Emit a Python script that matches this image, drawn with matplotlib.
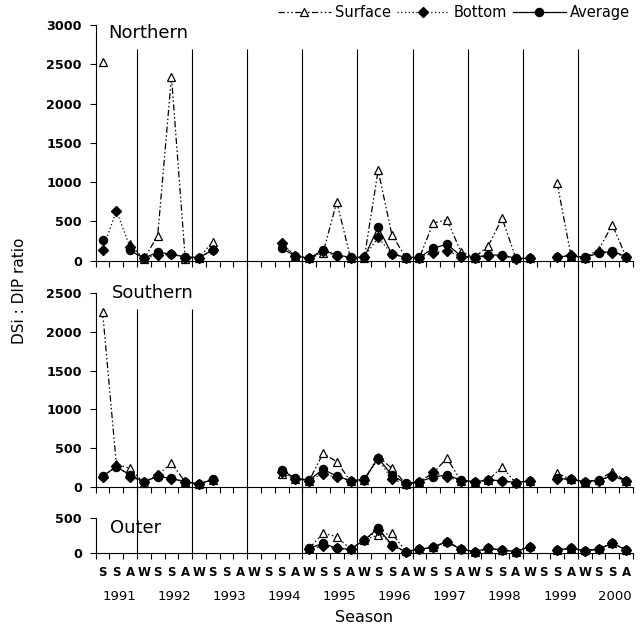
import numpy as np
import matplotlib
matplotlib.use("Agg")
import matplotlib.pyplot as plt
import matplotlib.transforms as mtransforms
from matplotlib.lines import Line2D

nan = np.nan

seasons = list("SSAW") * 9 + list("SSA")
years = [str(y) for y in range(1991, 2001)]

# Northern
north_surface = [2530, nan, 210, 20, 320, 2340, 25, 40, 240, nan, nan, nan, nan,
                 210, 60, 30, 100, 750, 30, 40, 1150, 330, 40, 40, 480, 520,
                 115, 40, 190, 540, 30, 30, nan, 985, 60, 40, 140, 455, 50]
north_bottom = [136, 636, 170, 30, 70, 80, 40, 40, 130, nan, nan, nan, nan,
                221, 60, 30, 120, 60, 40, 45, 297, 85, 40, 40, 102, 127,
                50, 40, 60, 60, 25, 30, nan, 50, 70, 40, 110, 100, 50]
north_average = [263, nan, 130, 30, 110, 80, 50, 40, 136, nan, nan, nan, nan,
                 157, 60, 30, 136, 72, 43, 45, 425, 85, 43, 43, 157, 212,
                 60, 43, 72, 72, 30, 30, nan, 50, 60, 43, 93, 123, 50]

# Southern
south_surface = [2260, 290, 237, 50, 150, 305, 60, 35, 90, nan, nan, nan, nan,
                 170, 100, 80, 431, 323, 70, 90, 390, 237, 40, 60, 180, 367,
                 80, 60, 85, 259, 45, 70, nan, 172, 95, 60, 90, 194, 70]
south_bottom = [120, 268, 130, 60, 150, 100, 60, 30, 90, nan, nan, nan, nan,
                190, 100, 80, 170, 120, 75, 90, 360, 95, 40, 60, 190, 120,
                80, 60, 90, 75, 50, 75, nan, 100, 95, 60, 80, 140, 75]
south_average = [138, 258, 151, 65, 130, 108, 65, 35, 95, nan, nan, nan, nan,
                 216, 108, 86, 224, 138, 78, 95, 370, 151, 43, 65, 125, 151,
                 86, 65, 86, 78, 52, 78, nan, 108, 95, 65, 86, 138, 78]

# Outer (no data before 1995)
outer_surface = [nan] * 15 + [70, 286, 238, 60, 190, 261, 286, 30, 60, 90, 170, 60,
                              25, 60, 50, 25, 100, nan, 50, 70, 40, 60, 140, 50]
outer_bottom = [nan] * 15 + [65, 100, 71, 57, 190, 330, 110, 24, 57, 86, 166, 57,
                             24, 71, 48, 24, 95, nan, 48, 71, 38, 57, 150, 48]
outer_average = [nan] * 15 + [71, 143, 71, 57, 190, 357, 119, 24, 57, 86, 166, 57,
                              24, 71, 48, 24, 95, nan, 48, 71, 38, 57, 143, 48]

vline_x = [2.5 + 4 * k for k in range(9)]
W, H = 642, 626
LEFT, RIGHT = 95.7, 633

SURF_LS = (0, (5, 2, 1.2, 2, 1.2, 2))
DOT_LS = (0, (1, 2))


def draw_panel(ax, surface, bottom, average, ytop, tick_max, vline_tops):
    x = np.arange(len(seasons))
    ax.patch.set_visible(False)
    ax.vlines(vline_x, 0, vline_tops, colors="black", linewidth=0.8)
    ax.plot(x, surface, color="black", lw=0.9, ls=SURF_LS, marker="^",
            ms=6, mfc="white", mec="black", mew=0.9, clip_on=False)
    ax.plot(x, bottom, color="black", lw=0.9, ls=DOT_LS, marker="D", ms=4.8,
            clip_on=False)
    ax.plot(x, average, color="black", lw=0.9, ls="-", marker="o", ms=5.8,
            clip_on=False)
    ax.set_xlim(-0.5, 38.5)
    ax.set_ylim(0, ytop)
    ax.set_yticks(np.arange(0, tick_max + 1, 500))
    ax.spines["left"].set_bounds(0, tick_max)
    for s in ("top", "right"):
        ax.spines[s].set_visible(False)
    ax.set_xticks(np.arange(-0.5, 39, 1))
    ax.tick_params(axis="x", which="major", length=4, width=0.8,
                   direction="out", labelbottom=False)
    ax.tick_params(axis="y", length=4, width=0.8, direction="out",
                   labelsize=9.2, pad=6)
    for lab in ax.get_yticklabels():
        lab.set_fontweight("bold")


def ax_rect(top_px, bottom_px):
    return [LEFT / W, 1 - bottom_px / H, (RIGHT - LEFT) / W,
            (bottom_px - top_px) / H]


def main():
    fig = plt.figure(figsize=(W / 100, H / 100), dpi=100)
    ax_n = fig.add_axes(ax_rect(25, 260.7))
    ax_s = fig.add_axes(ax_rect(260.7, 486.7))
    ax_o = fig.add_axes(ax_rect(486.7, 553.3))

    draw_panel(ax_n, north_surface, north_bottom, north_average,
               3000, 3000, [2700] * 9)
    draw_panel(ax_s, south_surface, south_bottom, south_average,
               2921, 2500, [2300, 2300] + [2921] * 7)
    draw_panel(ax_o, outer_surface, outer_bottom, outer_average,
               951, 500, [951] * 9)

    # season letters and years
    x = np.arange(len(seasons))
    ax_o.set_xticks(x, minor=True)
    ax_o.set_xticklabels(seasons, minor=True, fontsize=8.5, fontweight="bold")
    ax_o.tick_params(axis="x", which="minor", length=0, pad=9.5)
    trans = mtransforms.blended_transform_factory(ax_o.transData, fig.transFigure)
    for k, yr in enumerate(years):
        ax_o.text(1.2 + 4 * k, 1 - 597 / H, yr, transform=trans,
                  ha="center", va="center", fontsize=9.5)

    fig.text((LEFT + RIGHT) / 2 / W, 1 - 617 / H, "Season",
             ha="center", va="center", fontsize=11.5)
    fig.text(20 / W, 1 - 291 / H, "DSi : DIP ratio", rotation=90,
             ha="center", va="center", fontsize=11)

    for name, left, base in (("Northern", 108, 38.3),
                             ("Southern", 112, 298),
                             ("Outer", 110, 533)):
        fig.text(left / W, 1 - base / H, name, ha="left", va="baseline",
                 fontsize=13)

    handles = [
        Line2D([], [], color="black", lw=0.9, ls=SURF_LS, marker="^", ms=6,
               mfc="white", mec="black", mew=0.9),
        Line2D([], [], color="black", lw=0.9, ls=DOT_LS, marker="D", ms=4.8),
        Line2D([], [], color="black", lw=0.9, ls="-", marker="o", ms=5.8),
    ]
    fig.legend(handles, ["Surface", "Bottom", "Average"], ncol=3,
               frameon=False, loc="upper right",
               bbox_to_anchor=(630 / W, 1 - 5 / H), fontsize=10.5,
               handlelength=3.6, handletextpad=0.3, columnspacing=0.4,
               borderpad=0, borderaxespad=0)

    fig.savefig("out.png", dpi=100)


if __name__ == "__main__":
    main()
